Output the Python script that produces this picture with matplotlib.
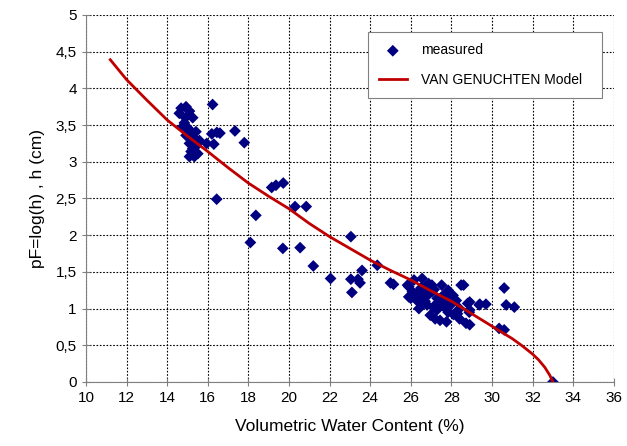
import matplotlib.pyplot as plt
from matplotlib.ticker import FuncFormatter, MultipleLocator

plt.rcParams["font.family"] = ["Liberation Sans", "DejaVu Sans"]

# measured points (volumetric water content %, pF)
theta_meas = [
    14.69, 14.93, 15.10, 14.60, 15.26, 14.77, 15.02, 15.18, 15.42, 14.93,
    15.34, 15.59, 15.10, 15.42, 15.18, 15.10, 15.34, 15.51, 15.26, 14.85,
    15.00, 15.20, 15.45, 14.90,
    16.24, 16.20, 16.45, 16.60, 17.34, 17.80, 15.95, 16.30, 16.44, 18.37,
    19.15, 19.36, 19.72, 20.30, 20.85, 18.10, 19.70, 20.55, 21.20, 22.05,
    23.05, 23.05, 23.40, 23.50, 23.10, 23.60, 24.35, 25.00, 25.15, 25.90,
    25.90,
    25.84, 26.16, 26.56, 26.88, 26.08, 26.00, 26.30, 26.64, 26.56, 27.04,
    26.80, 26.96, 27.20, 27.44, 27.36, 27.52, 27.60, 27.84, 27.92, 27.84,
    27.76, 28.24, 28.40, 28.48, 28.80, 28.88, 29.37, 28.72, 28.40, 26.40,
    27.28, 28.08, 27.04, 26.20, 26.70, 27.10, 27.70, 28.10, 26.50, 27.50,
    26.35, 26.90, 27.30, 27.65, 28.00, 28.30, 26.75, 27.15, 27.90, 26.60,
    28.60, 28.90, 29.40, 29.70, 28.90, 28.90, 30.60, 30.70, 31.10, 30.35,
    30.60, 33.00,
]
pf_meas = [
    3.73, 3.75, 3.69, 3.66, 3.60, 3.48, 3.46, 3.41, 3.41, 3.36,
    3.32, 3.29, 3.25, 3.21, 3.14, 3.07, 3.07, 3.11, 3.18, 3.53,
    3.40, 3.30, 3.24, 3.60,
    3.78, 3.38, 3.40, 3.39, 3.42, 3.26, 3.25, 3.24, 2.49, 2.27,
    2.65, 2.68, 2.71, 2.39, 2.39, 1.90, 1.82, 1.83, 1.58, 1.41,
    1.98, 1.40, 1.40, 1.35, 1.22, 1.52, 1.59, 1.35, 1.33, 1.30,
    1.16,
    1.32, 1.39, 1.41, 1.34, 1.23, 1.14, 1.11, 1.16, 1.27, 1.23,
    1.05, 0.91, 0.86, 0.84, 1.09, 1.32, 1.18, 1.25, 1.09, 0.95,
    0.82, 1.11, 1.00, 1.32, 1.07, 0.95, 1.05, 0.80, 0.86, 1.00,
    0.98, 1.18, 1.32, 1.20, 1.10, 1.02, 1.05, 0.92, 1.28, 1.15,
    1.22, 1.20, 1.14, 1.02, 1.06, 0.93, 1.30, 1.26, 1.15, 1.06,
    1.32, 1.09, 1.06, 1.06, 0.98, 0.78, 1.28, 1.05, 1.02, 0.73,
    0.71, 0.00,
]

# van Genuchten model curve
theta_model = [11.2, 12, 13, 14, 15, 16, 17, 18, 19, 20, 21, 22, 23, 24, 25,
               26, 27, 28, 29, 30, 31, 31.5, 32, 32.3, 32.6, 32.85, 33.0]
pf_model = [4.39, 4.12, 3.84, 3.57, 3.35, 3.14, 2.92, 2.71, 2.53, 2.36, 2.16,
            1.98, 1.82, 1.66, 1.52, 1.39, 1.24, 1.10, 0.93, 0.76, 0.59, 0.49,
            0.38, 0.30, 0.20, 0.09, 0.00]

fig = plt.figure(figsize=(6.27, 4.46), dpi=100)
ax = fig.add_axes([0.137, 0.1435, 0.842, 0.823])

ax.scatter(theta_meas, pf_meas, marker="D", s=36, color="#000080",
           edgecolors="none", label="measured", zorder=3)
ax.plot(theta_model, pf_model, color="#C00000", lw=2,
        label="VAN GENUCHTEN Model", zorder=4)

ax.set_xlim(10, 36)
ax.set_ylim(0, 5)
ax.xaxis.set_major_locator(MultipleLocator(2))
ax.yaxis.set_major_locator(MultipleLocator(0.5))
ax.yaxis.set_major_formatter(FuncFormatter(
    lambda v, p: ("%g" % v).replace(".", ",")))

ax.grid(True, color="black", linestyle=(0, (1.5, 1.5)), linewidth=0.8)
ax.set_axisbelow(True)
for side in ["top", "right"]:
    ax.spines[side].set_visible(False)
for side in ["left", "bottom"]:
    ax.spines[side].set_color("#808080")
ax.tick_params(direction="inout", length=6, color="#808080",
               labelsize=11, labelcolor="black")

ax.set_xlabel("Volumetric Water Content (%)", fontsize=12.5, labelpad=10)
ax.set_ylabel("pF=log(h) , h (cm)", fontsize=12.5, labelpad=8)

leg = ax.legend(loc="center", bbox_to_anchor=(0.534, 0.768, 0.443, 0.191),
                mode="expand", borderaxespad=0, fontsize=10, frameon=True,
                fancybox=False, labelspacing=1.1, handlelength=2.0,
                borderpad=0.8, handletextpad=1.0, scatterpoints=1)
leg.get_frame().set_edgecolor("#808080")
leg.get_frame().set_linewidth(0.8)
leg.get_frame().set_alpha(1)

fig.savefig("out.png", dpi=100)
